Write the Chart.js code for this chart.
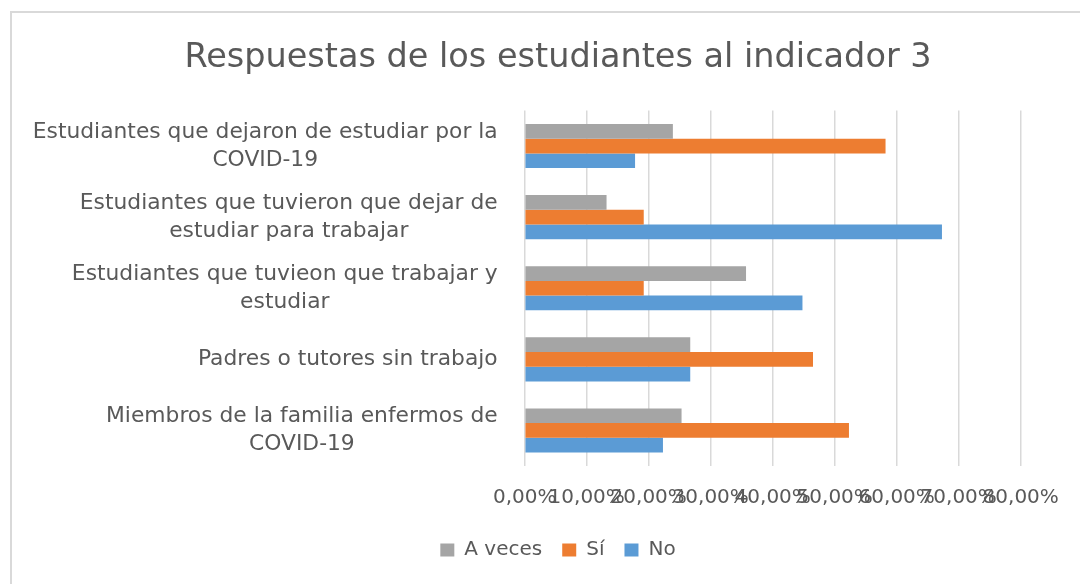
<!DOCTYPE html>
<html>
<head>
<meta charset="utf-8">
<script src="https://cdn.jsdelivr.net/npm/chart.js@4"></script>
<style>
  html, body { margin: 0; padding: 0; background: #fff; }
  .wrap { position: relative; width: 1080px; height: 584px; overflow: hidden; }
  .frame { position: absolute; left: 10px; top: 11px; width: 1200px; height: 700px; border: 2px solid #d9d9d9; }
  canvas { position: absolute; left: 0; top: 0; }
</style>
</head>
<body>
<div class="wrap">
  <div class="frame"></div>
  <canvas id="chart" width="1106" height="584"></canvas>
</div>
<script>
// data (percent)
const categories = [
  ["Estudiantes que dejaron de estudiar por la", "COVID-19"],
  ["Estudiantes que tuvieron que dejar de", "estudiar para trabajar"],
  ["Estudiantes que tuvieon que trabajar y", "estudiar"],
  "Padres o tutores sin trabajo",
  ["Miembros de la familia enfermos de", "COVID-19"],
];
const aVeces = [23.9, 13.2, 35.7, 26.7, 25.3];
const si = [58.2, 19.2, 19.2, 46.5, 52.3];
const no = [17.8, 67.3, 44.8, 26.7, 22.3];
const xMin = 0, xMax = 80, xStep = 10;

const textColor = "#595959";
const font = "DejaVu Sans";

// y labels: each block right aligned, lines centred inside it (Excel style)
const yLabels = {
  id: "yLabels",
  afterDraw(chart) {
    const s = chart.scales.y;
    const ctx = chart.ctx;
    ctx.save();
    ctx.font = `21.8px "${font}"`;
    ctx.fillStyle = textColor;
    ctx.textAlign = "center";
    ctx.textBaseline = "middle";
    const lh = 28;
    categories.forEach((lab, i) => {
      const lines = Array.isArray(lab) ? lab : [lab];
      const w = Math.max(...lines.map(l => ctx.measureText(l).width));
      const cx = s.right - 27 - w / 2;
      const y0 = s.getPixelForValue(i) - (lines.length - 1) * lh / 2;
      lines.forEach((l, j) => ctx.fillText(l, cx, y0 + j * lh));
    });
    ctx.restore();
  }
};

new Chart(document.getElementById("chart"), {
  type: "bar",
  data: {
    labels: categories,
    datasets: [
      { label: "A veces", data: aVeces, backgroundColor: "#A5A5A5" },
      { label: "Sí", data: si, backgroundColor: "#ED7D31" },
      { label: "No", data: no, backgroundColor: "#5B9BD5" },
    ],
  },
  options: {
    indexAxis: "y",
    responsive: false,
    animation: false,
    categoryPercentage: 0.62,
    barPercentage: 1,
    layout: { padding: { left: 10, right: 0, top: 0, bottom: 14 } },
    plugins: {
      title: {
        display: true,
        text: "Respuestas de los estudiantes al indicador 3",
        color: textColor,
        font: { family: font, size: 33.5, weight: "normal" },
        padding: { top: 38, bottom: 32.3 },
      },
      legend: {
        position: "bottom",
        labels: {
          color: textColor,
          font: { family: font, size: 20 },
          boxWidth: 14,
          boxHeight: 13,
          padding: 20,
        },
      },
      tooltip: { enabled: false },
    },
    scales: {
      x: {
        min: xMin,
        max: xMax,
        grid: { color: "#d9d9d9", lineWidth: 1.5, drawTicks: false },
        border: { display: false },
        ticks: {
          stepSize: xStep,
          autoSkip: false,
          maxRotation: 0,
          padding: 20,
          color: textColor,
          font: { family: font, size: 20 },
          callback: v => v.toFixed(2).replace(".", ",") + "%",
        },
        afterFit: s => { s.height = 54; s.paddingRight = 85.3; },
      },
      y: {
        grid: { display: false, drawTicks: false },
        border: { display: false },
        ticks: { color: "transparent", font: { family: font, size: 21.8 } },
        afterFit: s => { s.width = 514.7; },
      },
    },
  },
  plugins: [yLabels],
});
</script>
</body>
</html>
